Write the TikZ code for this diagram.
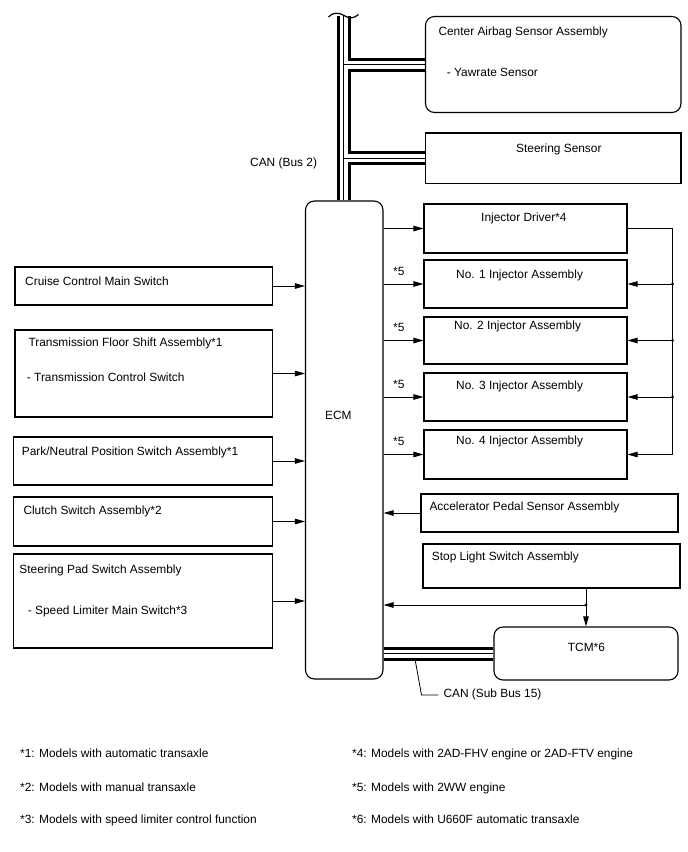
\documentclass[tikz,border=0pt]{standalone}
\usepackage{fontspec}
\setmainfont{Liberation Sans}
\usetikzlibrary{arrows.meta,backgrounds}
\begin{document}
\begin{tikzpicture}[x=1pt,y=-1pt,
  box/.style={draw=black, line width=1.1pt, inner sep=0pt, rectangle},
  rbox/.style={box, rounded corners=9pt},
  txt/.style={anchor=west, inner sep=0pt, text height=8.5pt, text depth=0pt, font=\fontsize{11.9}{14}\selectfont},
  line/.style={draw=black, line width=0.9pt},
  arr/.style={line, -{Triangle[length=10pt,width=5.5pt]}},
  busA/.style={line width=14pt, draw=black},
  busB/.style={line width=8pt, draw=white},
  busC/.style={line width=1.3pt, draw=black},
  jdot/.style={fill=black}
]
\useasboundingbox (0,0) rectangle (688,852);

% ---------- boxes ----------
\node[rbox, minimum width=255.5pt, minimum height=96pt] (airbag) at (553.25,64.5) {};
\node[box, minimum width=255.5pt, minimum height=50.3pt] (steer) at (553.25,158.15) {};
\node[rbox, minimum width=77.5pt, minimum height=478pt] (ecm) at (344.25,440) {};
\node[box, minimum width=203pt, minimum height=49pt] (drv) at (525.5,228.5) {};
\node[box, minimum width=203pt, minimum height=48pt] (inj1) at (525.5,284) {};
\node[box, minimum width=203pt, minimum height=47pt] (inj2) at (525.5,340.5) {};
\node[box, minimum width=203pt, minimum height=48pt] (inj3) at (525.5,397) {};
\node[box, minimum width=203pt, minimum height=49pt] (inj4) at (525.5,454.5) {};
\node[box, minimum width=257pt, minimum height=38pt] (accel) at (549.5,513) {};
\node[box, minimum width=257pt, minimum height=44pt] (stop) at (551.5,566) {};
\node[rbox, minimum width=184pt, minimum height=53pt] (tcm) at (586,653.5) {};
\node[box, minimum width=257.5pt, minimum height=38pt] (cruise) at (143.75,286) {};
\node[box, minimum width=257.5pt, minimum height=87pt] (tfs) at (143.75,373.5) {};
\node[box, minimum width=259pt, minimum height=48pt] (pn) at (143,461) {};
\node[box, minimum width=259pt, minimum height=49pt] (clutch) at (143,521.5) {};
\node[box, minimum width=259pt, minimum height=94pt] (spad) at (143,601) {};

% ---------- texts ----------
\node[txt] (t-airbag1) at (438.3,31.7) {Center Airbag Sensor Assembly};
\node[txt] (t-airbag2) at (446.7,72.7) {- Yawrate Sensor};
\node[txt] (t-steer) at (516,148.3) {Steering Sensor};
\node[txt] (t-can2) at (250,162.7) {CAN (Bus 2)};
\node[txt] (t-ecm) at (325,415) {ECM};
\node[txt] (t-drv) at (481,217.7) {Injector Driver*4};
\node[txt] (t-inj1) at (456,274) {No. 1 Injector Assembly};
\node[txt] (t-inj2) at (454,325.7) {No. 2 Injector Assembly};
\node[txt] (t-inj3) at (456,385) {No. 3 Injector Assembly};
\node[txt] (t-inj4) at (456,440.7) {No. 4 Injector Assembly};
\node[txt] (s1) at (393,271) {*5};
\node[txt] (s2) at (393,327.5) {*5};
\node[txt] (s3) at (393,384) {*5};
\node[txt] (s4) at (393,441) {*5};
\node[txt] (t-accel) at (429.3,506.7) {Accelerator Pedal Sensor Assembly};
\node[txt] (t-stop) at (431.7,556) {Stop Light Switch Assembly};
\node[txt] (t-tcm) at (567.7,647.7) {TCM*6};
\node[txt] (t-cansub) at (443.3,693.3) {CAN (Sub Bus 15)};
\node[txt] (t-cruise) at (25,281) {Cruise Control Main Switch};
\node[txt] (t-tfs1) at (28.3,342.3) {Transmission Floor Shift Assembly*1};
\node[txt] (t-tfs2) at (26.7,377.3) {- Transmission Control Switch};
\node[txt] (t-pn) at (21.7,451) {Park/Neutral Position Switch Assembly*1};
\node[txt] (t-clutch) at (23.3,510.7) {Clutch Switch Assembly*2};
\node[txt] (t-spad1) at (19.3,569) {Steering Pad Switch Assembly};
\node[txt] (t-spad2) at (27.7,610) {- Speed Limiter Main Switch*3};

\node[txt] (f1) at (20,753) {*1: Models with automatic transaxle};
\node[txt] (f2) at (20,787) {*2: Models with manual transaxle};
\node[txt] (f3) at (20,819) {*3: Models with speed limiter control function};
\node[txt] (f4) at (352,753) {*4: Models with 2AD-FHV engine or 2AD-FTV engine};
\node[txt] (f5) at (352,787) {*5: Models with 2WW engine};
\node[txt] (f6) at (352,819) {*6: Models with U660F automatic transaxle};

% ---------- CAN buses ----------
\coordinate (bustop) at (343.7,16);
\begin{scope}[on background layer]
\foreach \s in {busA,busB,busC} {
  \draw[\s] (bustop) -- (bustop |- ecm.north);
  \draw[\s] (bustop |- airbag.west) -- (airbag.west);
  \draw[\s] (bustop |- steer.west) -- (steer.west);
  \draw[\s] (ecm.east |- tcm.west) -- (tcm.west);
}
\end{scope}
\draw[line width=1.2pt] (328.5,17) .. controls (332,12.5) and (339,12) .. (344,15.5)
  .. controls (349,19) and (354,18.5) .. (358.5,14.5);

% leader for sub bus
\coordinate (lead0) at (415,659);
\coordinate (lead1) at (421.5,695);
\draw[line width=0.8pt] (lead0) -- (lead1) -- ([xshift=-5pt]t-cansub.west |- lead1);

% ---------- left inputs ----------
\foreach \n in {cruise,tfs,pn,clutch,spad} {
  \draw[arr] (\n.east) -- (\n.east -| ecm.west);
}

% ---------- injectors ----------
\foreach \n in {drv,inj1,inj2,inj3,inj4} {
  \draw[arr] (\n.west -| ecm.east) -- (\n.west);
}
\coordinate (rx) at (672.5,0);
\draw[arr] (drv.east) -- (drv.east -| rx) -- (inj4.east -| rx) -- (inj4.east);
\foreach \n in {inj1,inj2,inj3} {
  \draw[arr] (\n.east -| rx) -- (\n.east);
  \fill[jdot] (\n.east -| rx) circle (1.6pt);
}

% ---------- accelerator / stop light ----------
\draw[arr] (accel.west) -- (accel.west -| ecm.east);
\coordinate (sj) at (586,605);
\draw[line] (stop.south -| sj) -- (sj);
\draw[arr] (sj) -- (sj -| ecm.east);
\draw[arr] (sj) -- (tcm.north);
\fill[jdot] (sj) circle (1.6pt);
\end{tikzpicture}
\end{document}
